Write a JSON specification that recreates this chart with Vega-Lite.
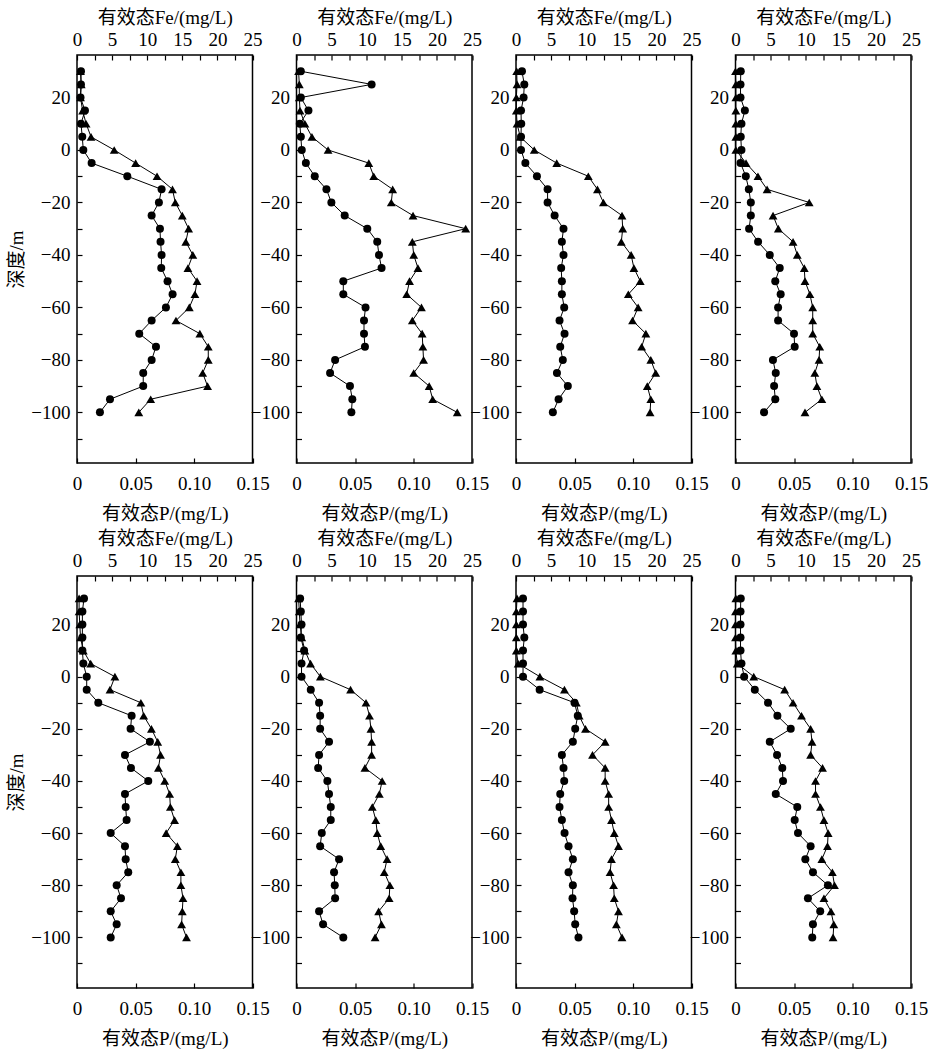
{
"$schema": "https://vega.github.io/schema/vega-lite/v6.json",
"background": "white",
"padding": {"left": 7, "top": 7, "right": 6, "bottom": 6},
"datasets": {
"t1d1": [{"z":30,"P":0.0034,"Fe":0.5},{"z":25,"P":0.0034,"Fe":0.6},{"z":20,"P":0.003,"Fe":0.5},{"z":15,"P":0.0068,"Fe":0.8},{"z":10,"P":0.0034,"Fe":1.3},{"z":5,"P":0.0045,"Fe":2.0},{"z":0,"P":0.0054,"Fe":5.3},{"z":-5,"P":0.0125,"Fe":8.35},{"z":-10,"P":0.043,"Fe":11.4},{"z":-15,"P":0.0723,"Fe":13.6},{"z":-20,"P":0.070,"Fe":14.0},{"z":-25,"P":0.0638,"Fe":15.0},{"z":-30,"P":0.0709,"Fe":15.9},{"z":-35,"P":0.0714,"Fe":15.5},{"z":-40,"P":0.0723,"Fe":16.5},{"z":-45,"P":0.072,"Fe":15.8},{"z":-50,"P":0.0774,"Fe":17.1},{"z":-55,"P":0.0817,"Fe":16.8},{"z":-60,"P":0.076,"Fe":16.0},{"z":-65,"P":0.0638,"Fe":14.1},{"z":-70,"P":0.0532,"Fe":17.5},{"z":-75,"P":0.0675,"Fe":18.7},{"z":-80,"P":0.0638,"Fe":18.7},{"z":-85,"P":0.0566,"Fe":17.9},{"z":-90,"P":0.0566,"Fe":18.6},{"z":-95,"P":0.0282,"Fe":10.5},{"z":-100,"P":0.0196,"Fe":8.8}],
"t1d14": [{"z":30,"P":0.0037,"Fe":0.3},{"z":25,"P":0.0642,"Fe":0.4},{"z":20,"P":0.0037,"Fe":0.4},{"z":15,"P":0.0102,"Fe":0.5},{"z":10,"P":0.0028,"Fe":1.2},{"z":5,"P":0.0037,"Fe":2.2},{"z":0,"P":0.0045,"Fe":4.5},{"z":-5,"P":0.008,"Fe":10.3},{"z":-10,"P":0.0156,"Fe":11.0},{"z":-15,"P":0.0256,"Fe":13.7},{"z":-20,"P":0.0298,"Fe":13.5},{"z":-25,"P":0.0412,"Fe":16.6},{"z":-30,"P":0.0605,"Fe":24.1},{"z":-35,"P":0.069,"Fe":16.5},{"z":-40,"P":0.0705,"Fe":16.7},{"z":-45,"P":0.0727,"Fe":17.3},{"z":-50,"P":0.040,"Fe":16.1},{"z":-55,"P":0.040,"Fe":15.7},{"z":-60,"P":0.059,"Fe":17.8},{"z":-65,"P":0.0577,"Fe":16.5},{"z":-70,"P":0.0577,"Fe":17.9},{"z":-75,"P":0.0585,"Fe":18.0},{"z":-80,"P":0.033,"Fe":18.1},{"z":-85,"P":0.0287,"Fe":16.7},{"z":-90,"P":0.0457,"Fe":18.9},{"z":-95,"P":0.0477,"Fe":19.4},{"z":-100,"P":0.0469,"Fe":22.9}],
"t1d32": [{"z":30,"P":0.0051,"Fe":0.1},{"z":25,"P":0.0071,"Fe":0.15},{"z":20,"P":0.0065,"Fe":0.05},{"z":15,"P":0.0043,"Fe":0.05},{"z":10,"P":0.0045,"Fe":0.15},{"z":5,"P":0.0043,"Fe":0.6},{"z":0,"P":0.0043,"Fe":2.6},{"z":-5,"P":0.008,"Fe":5.8},{"z":-10,"P":0.0179,"Fe":10.3},{"z":-15,"P":0.027,"Fe":11.6},{"z":-20,"P":0.027,"Fe":12.45},{"z":-25,"P":0.033,"Fe":15.1},{"z":-30,"P":0.0406,"Fe":15.2},{"z":-35,"P":0.0392,"Fe":15.0},{"z":-40,"P":0.0406,"Fe":16.4},{"z":-45,"P":0.0386,"Fe":16.8},{"z":-50,"P":0.0392,"Fe":17.7},{"z":-55,"P":0.0392,"Fe":16.0},{"z":-60,"P":0.0412,"Fe":17.4},{"z":-65,"P":0.0372,"Fe":16.6},{"z":-70,"P":0.0415,"Fe":18.5},{"z":-75,"P":0.0378,"Fe":17.9},{"z":-80,"P":0.040,"Fe":19.2},{"z":-85,"P":0.035,"Fe":19.9},{"z":-90,"P":0.0443,"Fe":18.7},{"z":-95,"P":0.0364,"Fe":19.2},{"z":-100,"P":0.0315,"Fe":19.1}],
"t1d54": [{"z":30,"P":0.0045,"Fe":0},{"z":25,"P":0.0043,"Fe":0.05},{"z":20,"P":0.0043,"Fe":0.05},{"z":15,"P":0.008,"Fe":0.05},{"z":10,"P":0.0051,"Fe":0.05},{"z":5,"P":0.0045,"Fe":0.05},{"z":0,"P":0.0051,"Fe":0.05},{"z":-5,"P":0.0043,"Fe":1.5},{"z":-10,"P":0.0088,"Fe":3.2},{"z":-15,"P":0.0114,"Fe":4.5},{"z":-20,"P":0.0131,"Fe":10.5},{"z":-25,"P":0.0131,"Fe":5.35},{"z":-30,"P":0.0116,"Fe":6.1},{"z":-35,"P":0.0193,"Fe":8.2},{"z":-40,"P":0.0293,"Fe":8.8},{"z":-45,"P":0.0378,"Fe":9.8},{"z":-50,"P":0.034,"Fe":9.9},{"z":-55,"P":0.0386,"Fe":10.6},{"z":-60,"P":0.0364,"Fe":11.0},{"z":-65,"P":0.0364,"Fe":11.0},{"z":-70,"P":0.05,"Fe":11.0},{"z":-75,"P":0.0506,"Fe":12.0},{"z":-80,"P":0.032,"Fe":11.9},{"z":-85,"P":0.0344,"Fe":11.3},{"z":-90,"P":0.033,"Fe":11.6},{"z":-95,"P":0.034,"Fe":12.3},{"z":-100,"P":0.0244,"Fe":9.9}],
"t2d1": [{"z":30,"P":0.006,"Fe":0.3},{"z":25,"P":0.0046,"Fe":0.3},{"z":20,"P":0.0046,"Fe":0.4},{"z":15,"P":0.0046,"Fe":0.5},{"z":10,"P":0.0046,"Fe":0.9},{"z":5,"P":0.0054,"Fe":1.95},{"z":0,"P":0.0083,"Fe":5.4},{"z":-5,"P":0.0083,"Fe":4.7},{"z":-10,"P":0.0182,"Fe":9.1},{"z":-15,"P":0.0467,"Fe":9.5},{"z":-20,"P":0.0458,"Fe":10.6},{"z":-25,"P":0.0623,"Fe":11.5},{"z":-30,"P":0.041,"Fe":11.9},{"z":-35,"P":0.0461,"Fe":11.6},{"z":-40,"P":0.0609,"Fe":12.5},{"z":-45,"P":0.041,"Fe":13.2},{"z":-50,"P":0.0416,"Fe":13.3},{"z":-55,"P":0.0424,"Fe":13.9},{"z":-60,"P":0.0288,"Fe":12.7},{"z":-65,"P":0.041,"Fe":14.3},{"z":-70,"P":0.0416,"Fe":14.0},{"z":-75,"P":0.0438,"Fe":14.8},{"z":-80,"P":0.0339,"Fe":14.8},{"z":-85,"P":0.0376,"Fe":15.1},{"z":-90,"P":0.0288,"Fe":15.0},{"z":-95,"P":0.0339,"Fe":14.9},{"z":-100,"P":0.0288,"Fe":15.6}],
"t2d14": [{"z":30,"P":0.0031,"Fe":0.3},{"z":25,"P":0.0037,"Fe":0.4},{"z":20,"P":0.0043,"Fe":0.5},{"z":15,"P":0.0037,"Fe":0.75},{"z":10,"P":0.0065,"Fe":1.2},{"z":5,"P":0.0043,"Fe":2.0},{"z":0,"P":0.0043,"Fe":3.4},{"z":-5,"P":0.0122,"Fe":7.7},{"z":-10,"P":0.0193,"Fe":9.9},{"z":-15,"P":0.0202,"Fe":10.4},{"z":-20,"P":0.0202,"Fe":10.6},{"z":-25,"P":0.0278,"Fe":10.7},{"z":-30,"P":0.0193,"Fe":10.7},{"z":-35,"P":0.0185,"Fe":9.75},{"z":-40,"P":0.0264,"Fe":12.2},{"z":-45,"P":0.0278,"Fe":11.8},{"z":-50,"P":0.0293,"Fe":10.8},{"z":-55,"P":0.0293,"Fe":11.3},{"z":-60,"P":0.0216,"Fe":11.5},{"z":-65,"P":0.0202,"Fe":12.0},{"z":-70,"P":0.0364,"Fe":12.9},{"z":-75,"P":0.0321,"Fe":12.5},{"z":-80,"P":0.0327,"Fe":13.3},{"z":-85,"P":0.033,"Fe":13.2},{"z":-90,"P":0.0193,"Fe":11.7},{"z":-95,"P":0.0227,"Fe":12.1},{"z":-100,"P":0.040,"Fe":11.2}],
"t2d32": [{"z":30,"P":0.006,"Fe":0.15},{"z":25,"P":0.006,"Fe":0.05},{"z":20,"P":0.006,"Fe":0.05},{"z":15,"P":0.0071,"Fe":0.05},{"z":10,"P":0.006,"Fe":0.05},{"z":5,"P":0.006,"Fe":0.3},{"z":0,"P":0.006,"Fe":3.4},{"z":-5,"P":0.0202,"Fe":6.9},{"z":-10,"P":0.050,"Fe":8.6},{"z":-15,"P":0.0528,"Fe":9.0},{"z":-20,"P":0.0506,"Fe":9.9},{"z":-25,"P":0.0486,"Fe":12.7},{"z":-30,"P":0.0392,"Fe":10.9},{"z":-35,"P":0.0406,"Fe":12.7},{"z":-40,"P":0.0412,"Fe":12.7},{"z":-45,"P":0.0378,"Fe":13.2},{"z":-50,"P":0.0372,"Fe":13.2},{"z":-55,"P":0.0392,"Fe":13.6},{"z":-60,"P":0.0415,"Fe":14.0},{"z":-65,"P":0.0449,"Fe":14.6},{"z":-70,"P":0.0486,"Fe":13.6},{"z":-75,"P":0.0449,"Fe":13.4},{"z":-80,"P":0.0486,"Fe":13.9},{"z":-85,"P":0.0483,"Fe":14.0},{"z":-90,"P":0.0497,"Fe":14.6},{"z":-95,"P":0.0506,"Fe":14.3},{"z":-100,"P":0.0534,"Fe":15.1}],
"t2d54": [{"z":30,"P":0.0045,"Fe":0.05},{"z":25,"P":0.0043,"Fe":0},{"z":20,"P":0.0043,"Fe":0},{"z":15,"P":0.0043,"Fe":0},{"z":10,"P":0.0043,"Fe":0.05},{"z":5,"P":0.0051,"Fe":0.25},{"z":0,"P":0.0074,"Fe":2.6},{"z":-5,"P":0.0165,"Fe":7.0},{"z":-10,"P":0.0278,"Fe":8.2},{"z":-15,"P":0.0358,"Fe":9.4},{"z":-20,"P":0.0472,"Fe":10.7},{"z":-25,"P":0.0293,"Fe":10.9},{"z":-30,"P":0.0355,"Fe":10.7},{"z":-35,"P":0.040,"Fe":12.4},{"z":-40,"P":0.0406,"Fe":11.4},{"z":-45,"P":0.0344,"Fe":11.4},{"z":-50,"P":0.0528,"Fe":12.1},{"z":-55,"P":0.0506,"Fe":12.6},{"z":-60,"P":0.0534,"Fe":13.2},{"z":-65,"P":0.0642,"Fe":13.1},{"z":-70,"P":0.0597,"Fe":12.3},{"z":-75,"P":0.0662,"Fe":13.8},{"z":-80,"P":0.079,"Fe":14.1},{"z":-85,"P":0.0619,"Fe":12.6},{"z":-90,"P":0.0724,"Fe":13.6},{"z":-95,"P":0.0662,"Fe":14.0},{"z":-100,"P":0.0656,"Fe":13.9}],
"one": [{}]
},
"columns": 4,
"spacing": {"row": 113, "column": 43.5},
"bounds": "flush",
"concat": [
{"width": 175.5, "height": 408, "data": {"name": "t1d1"}, "resolve": {"scale": {"x": "independent"}},
 "encoding": {"y": {"field": "z", "type": "quantitative", "scale": {"domain": [-119.3, 36.2], "nice": false, "zero": false}, "axis": {"title": "深度/m", "values": [30, 20, 10, 0, -10, -20, -30, -40, -50, -60, -70, -80, -90, -100, -110], "labelExpr": "datum.value % 20 === 0 ? format(datum.value, 'd') : ''", "tickSize": 5, "offset": -5, "labelPadding": 7, "titlePadding": 4}}},
 "layer": [
  {"layer": [
   {"data": {"name": "one"}, "mark": {"type": "rule", "strokeDash": [3, 2], "color": "black", "strokeWidth": 1}, "encoding": {"y": {"datum": 0}}},
   {"mark": {"type": "line", "color": "black", "strokeWidth": 1, "point": {"shape": "circle", "size": 64, "filled": true, "color": "black", "opacity": 1}},
    "encoding": {
     "x": {"field": "P", "type": "quantitative", "scale": {"domain": [0, 0.15], "nice": false}, "axis": {"orient": "bottom", "title": "有效态P/(mg/L)", "values": [0, 0.025, 0.05, 0.075, 0.1, 0.125, 0.15], "labelExpr": "datum.value === 0 ? '0' : (round(datum.value * 1000) % 50 === 0 ? format(datum.value, '.2f') : '')", "tickSize": 5, "offset": -5, "labelPadding": 11, "titlePadding": 11}},
     "order": {"field": "z", "sort": "descending"}}},
   {"data": {"name": "one"}, "mark": {"type": "text", "align": "right", "baseline": "middle"}, "encoding": {"x": {"datum": 0.1344}, "y": {"datum": 18.3}, "text": {"value": "相关性: 0.673"}}},
   {"data": {"name": "one"}, "mark": {"type": "text", "align": "left", "baseline": "middle", "fontSize": 12}, "encoding": {"x": {"datum": 0.1344}, "y": {"datum": 21.3}, "text": {"value": "**"}}},
   {"data": {"name": "one"}, "mark": {"type": "text", "align": "left", "baseline": "middle"}, "encoding": {"x": {"datum": 0.087}, "y": {"datum": -100}, "text": {"value": "TB1"}}},
   {"data": {"name": "one"}, "mark": {"type": "text", "align": "left", "baseline": "middle"}, "encoding": {"x": {"datum": 0.087}, "y": {"datum": -110}, "text": {"value": "Day1"}}}
  ]},
  {"mark": {"type": "line", "color": "black", "strokeWidth": 1, "point": {"shape": "triangle-up", "size": 78, "filled": true, "color": "black", "opacity": 1}},
   "encoding": {
    "x": {"field": "Fe", "type": "quantitative", "scale": {"domain": [0, 25], "nice": false}, "axis": {"orient": "top", "title": "有效态Fe/(mg/L)", "values": [0, 2.5, 5, 7.5, 10, 12.5, 15, 17.5, 20, 22.5, 25], "labelExpr": "datum.value % 5 === 0 ? format(datum.value, 'd') : ''", "tickSize": 5, "offset": -5, "labelPadding": 5.5, "titlePadding": 3}},
    "order": {"field": "z", "sort": "descending"}}}
 ]},
{"width": 175.5, "height": 408, "data": {"name": "t1d14"}, "resolve": {"scale": {"x": "independent"}},
 "encoding": {"y": {"field": "z", "type": "quantitative", "scale": {"domain": [-119.3, 36.2], "nice": false, "zero": false}, "axis": {"title": null, "values": [30, 20, 10, 0, -10, -20, -30, -40, -50, -60, -70, -80, -90, -100, -110], "labelExpr": "datum.value % 20 === 0 ? format(datum.value, 'd') : ''", "tickSize": 5, "offset": -5, "labelPadding": 7}}},
 "layer": [
  {"layer": [
   {"data": {"name": "one"}, "mark": {"type": "rule", "strokeDash": [3, 2], "color": "black", "strokeWidth": 1}, "encoding": {"y": {"datum": 0}}},
   {"mark": {"type": "line", "color": "black", "strokeWidth": 1, "point": {"shape": "circle", "size": 64, "filled": true, "color": "black", "opacity": 1}},
    "encoding": {
     "x": {"field": "P", "type": "quantitative", "scale": {"domain": [0, 0.15], "nice": false}, "axis": {"orient": "bottom", "title": "有效态P/(mg/L)", "values": [0, 0.025, 0.05, 0.075, 0.1, 0.125, 0.15], "labelExpr": "datum.value === 0 ? '0' : (round(datum.value * 1000) % 50 === 0 ? format(datum.value, '.2f') : '')", "tickSize": 5, "offset": -5, "labelPadding": 11, "titlePadding": 11}},
     "order": {"field": "z", "sort": "descending"}}},
   {"data": {"name": "one"}, "mark": {"type": "text", "align": "right", "baseline": "middle"}, "encoding": {"x": {"datum": 0.1304}, "y": {"datum": 18.3}, "text": {"value": "相关性: 0.500"}}},
   {"data": {"name": "one"}, "mark": {"type": "text", "align": "left", "baseline": "middle", "fontSize": 12}, "encoding": {"x": {"datum": 0.1304}, "y": {"datum": 21.3}, "text": {"value": "*"}}},
   {"data": {"name": "one"}, "mark": {"type": "text", "align": "left", "baseline": "middle"}, "encoding": {"x": {"datum": 0.078}, "y": {"datum": -100}, "text": {"value": "TB1"}}},
   {"data": {"name": "one"}, "mark": {"type": "text", "align": "left", "baseline": "middle"}, "encoding": {"x": {"datum": 0.078}, "y": {"datum": -110}, "text": {"value": "Day14"}}}
  ]},
  {"mark": {"type": "line", "color": "black", "strokeWidth": 1, "point": {"shape": "triangle-up", "size": 78, "filled": true, "color": "black", "opacity": 1}},
   "encoding": {
    "x": {"field": "Fe", "type": "quantitative", "scale": {"domain": [0, 25], "nice": false}, "axis": {"orient": "top", "title": "有效态Fe/(mg/L)", "values": [0, 2.5, 5, 7.5, 10, 12.5, 15, 17.5, 20, 22.5, 25], "labelExpr": "datum.value % 5 === 0 ? format(datum.value, 'd') : ''", "tickSize": 5, "offset": -5, "labelPadding": 5.5, "titlePadding": 3}},
    "order": {"field": "z", "sort": "descending"}}}
 ]},
{"width": 175.5, "height": 408, "data": {"name": "t1d32"}, "resolve": {"scale": {"x": "independent"}},
 "encoding": {"y": {"field": "z", "type": "quantitative", "scale": {"domain": [-119.3, 36.2], "nice": false, "zero": false}, "axis": {"title": null, "values": [30, 20, 10, 0, -10, -20, -30, -40, -50, -60, -70, -80, -90, -100, -110], "labelExpr": "datum.value % 20 === 0 ? format(datum.value, 'd') : ''", "tickSize": 5, "offset": -5, "labelPadding": 7}}},
 "layer": [
  {"layer": [
   {"data": {"name": "one"}, "mark": {"type": "rule", "strokeDash": [3, 2], "color": "black", "strokeWidth": 1}, "encoding": {"y": {"datum": 0}}},
   {"mark": {"type": "line", "color": "black", "strokeWidth": 1, "point": {"shape": "circle", "size": 64, "filled": true, "color": "black", "opacity": 1}},
    "encoding": {
     "x": {"field": "P", "type": "quantitative", "scale": {"domain": [0, 0.15], "nice": false}, "axis": {"orient": "bottom", "title": "有效态P/(mg/L)", "values": [0, 0.025, 0.05, 0.075, 0.1, 0.125, 0.15], "labelExpr": "datum.value === 0 ? '0' : (round(datum.value * 1000) % 50 === 0 ? format(datum.value, '.2f') : '')", "tickSize": 5, "offset": -5, "labelPadding": 11, "titlePadding": 11}},
     "order": {"field": "z", "sort": "descending"}}},
   {"data": {"name": "one"}, "mark": {"type": "text", "align": "right", "baseline": "middle"}, "encoding": {"x": {"datum": 0.126}, "y": {"datum": 18.3}, "text": {"value": "相关性: 0.722"}}},
   {"data": {"name": "one"}, "mark": {"type": "text", "align": "left", "baseline": "middle", "fontSize": 12}, "encoding": {"x": {"datum": 0.126}, "y": {"datum": 21.3}, "text": {"value": "**"}}},
   {"data": {"name": "one"}, "mark": {"type": "text", "align": "left", "baseline": "middle"}, "encoding": {"x": {"datum": 0.065}, "y": {"datum": -100}, "text": {"value": "TB1"}}},
   {"data": {"name": "one"}, "mark": {"type": "text", "align": "left", "baseline": "middle"}, "encoding": {"x": {"datum": 0.065}, "y": {"datum": -110}, "text": {"value": "Day32"}}}
  ]},
  {"mark": {"type": "line", "color": "black", "strokeWidth": 1, "point": {"shape": "triangle-up", "size": 78, "filled": true, "color": "black", "opacity": 1}},
   "encoding": {
    "x": {"field": "Fe", "type": "quantitative", "scale": {"domain": [0, 25], "nice": false}, "axis": {"orient": "top", "title": "有效态Fe/(mg/L)", "values": [0, 2.5, 5, 7.5, 10, 12.5, 15, 17.5, 20, 22.5, 25], "labelExpr": "datum.value % 5 === 0 ? format(datum.value, 'd') : ''", "tickSize": 5, "offset": -5, "labelPadding": 5.5, "titlePadding": 3}},
    "order": {"field": "z", "sort": "descending"}}}
 ]},
{"width": 175.5, "height": 408, "data": {"name": "t1d54"}, "resolve": {"scale": {"x": "independent"}},
 "encoding": {"y": {"field": "z", "type": "quantitative", "scale": {"domain": [-119.3, 36.2], "nice": false, "zero": false}, "axis": {"title": null, "values": [30, 20, 10, 0, -10, -20, -30, -40, -50, -60, -70, -80, -90, -100, -110], "labelExpr": "datum.value % 20 === 0 ? format(datum.value, 'd') : ''", "tickSize": 5, "offset": -5, "labelPadding": 7}}},
 "layer": [
  {"layer": [
   {"data": {"name": "one"}, "mark": {"type": "rule", "strokeDash": [3, 2], "color": "black", "strokeWidth": 1}, "encoding": {"y": {"datum": 0}}},
   {"mark": {"type": "line", "color": "black", "strokeWidth": 1, "point": {"shape": "circle", "size": 64, "filled": true, "color": "black", "opacity": 1}},
    "encoding": {
     "x": {"field": "P", "type": "quantitative", "scale": {"domain": [0, 0.15], "nice": false}, "axis": {"orient": "bottom", "title": "有效态P/(mg/L)", "values": [0, 0.025, 0.05, 0.075, 0.1, 0.125, 0.15], "labelExpr": "datum.value === 0 ? '0' : (round(datum.value * 1000) % 50 === 0 ? format(datum.value, '.2f') : '')", "tickSize": 5, "offset": -5, "labelPadding": 11, "titlePadding": 11}},
     "order": {"field": "z", "sort": "descending"}}},
   {"data": {"name": "one"}, "mark": {"type": "text", "align": "right", "baseline": "middle"}, "encoding": {"x": {"datum": 0.1233}, "y": {"datum": 20}, "text": {"value": "相关性: 0.803"}}},
   {"data": {"name": "one"}, "mark": {"type": "text", "align": "left", "baseline": "middle", "fontSize": 12}, "encoding": {"x": {"datum": 0.1233}, "y": {"datum": 23}, "text": {"value": "**"}}},
   {"data": {"name": "one"}, "mark": {"type": "text", "align": "left", "baseline": "middle"}, "encoding": {"x": {"datum": 0.088}, "y": {"datum": -100}, "text": {"value": "TB1"}}},
   {"data": {"name": "one"}, "mark": {"type": "text", "align": "left", "baseline": "middle"}, "encoding": {"x": {"datum": 0.088}, "y": {"datum": -110}, "text": {"value": "Day54"}}},
   {"data": {"name": "one"}, "mark": {"type": "rule", "color": "black", "strokeWidth": 1}, "encoding": {"x": {"datum": 0.0833}, "x2": {"datum": 0.1103}, "y": {"datum": -10}}},
   {"data": {"name": "one"}, "mark": {"type": "point", "shape": "circle", "size": 64, "filled": true, "color": "black", "opacity": 1}, "encoding": {"x": {"datum": 0.0955}, "y": {"datum": -10}}},
   {"data": {"name": "one"}, "mark": {"type": "text", "align": "left", "baseline": "middle"}, "encoding": {"x": {"datum": 0.1117}, "y": {"datum": -10}, "text": {"value": "P"}}},
   {"data": {"name": "one"}, "mark": {"type": "rule", "color": "black", "strokeWidth": 1}, "encoding": {"x": {"datum": 0.0833}, "x2": {"datum": 0.1103}, "y": {"datum": -20}}},
   {"data": {"name": "one"}, "mark": {"type": "point", "shape": "triangle-up", "size": 78, "filled": true, "color": "black", "opacity": 1}, "encoding": {"x": {"datum": 0.0965}, "y": {"datum": -20}}},
   {"data": {"name": "one"}, "mark": {"type": "text", "align": "left", "baseline": "middle"}, "encoding": {"x": {"datum": 0.1117}, "y": {"datum": -20}, "text": {"value": "Fe"}}}
  ]},
  {"mark": {"type": "line", "color": "black", "strokeWidth": 1, "point": {"shape": "triangle-up", "size": 78, "filled": true, "color": "black", "opacity": 1}},
   "encoding": {
    "x": {"field": "Fe", "type": "quantitative", "scale": {"domain": [0, 25], "nice": false}, "axis": {"orient": "top", "title": "有效态Fe/(mg/L)", "values": [0, 2.5, 5, 7.5, 10, 12.5, 15, 17.5, 20, 22.5, 25], "labelExpr": "datum.value % 5 === 0 ? format(datum.value, 'd') : ''", "tickSize": 5, "offset": -5, "labelPadding": 5.5, "titlePadding": 3}},
    "order": {"field": "z", "sort": "descending"}}}
 ]},
{"width": 175.5, "height": 412, "data": {"name": "t2d1"}, "resolve": {"scale": {"x": "independent"}},
 "encoding": {"y": {"field": "z", "type": "quantitative", "scale": {"domain": [-119.4, 38.6], "nice": false, "zero": false}, "axis": {"title": "深度/m", "values": [30, 20, 10, 0, -10, -20, -30, -40, -50, -60, -70, -80, -90, -100, -110], "labelExpr": "datum.value % 20 === 0 ? format(datum.value, 'd') : ''", "tickSize": 5, "offset": -5, "labelPadding": 7, "titlePadding": 4}}},
 "layer": [
  {"layer": [
   {"data": {"name": "one"}, "mark": {"type": "rule", "strokeDash": [3, 2], "color": "black", "strokeWidth": 1}, "encoding": {"y": {"datum": 0}}},
   {"mark": {"type": "line", "color": "black", "strokeWidth": 1, "point": {"shape": "circle", "size": 64, "filled": true, "color": "black", "opacity": 1}},
    "encoding": {
     "x": {"field": "P", "type": "quantitative", "scale": {"domain": [0, 0.15], "nice": false}, "axis": {"orient": "bottom", "title": "有效态P/(mg/L)", "values": [0, 0.025, 0.05, 0.075, 0.1, 0.125, 0.15], "labelExpr": "datum.value === 0 ? '0' : (round(datum.value * 1000) % 50 === 0 ? format(datum.value, '.2f') : '')", "tickSize": 5, "offset": -5, "labelPadding": 11, "titlePadding": 11}},
     "order": {"field": "z", "sort": "descending"}}},
   {"data": {"name": "one"}, "mark": {"type": "text", "align": "right", "baseline": "middle"}, "encoding": {"x": {"datum": 0.1358}, "y": {"datum": 27.3}, "text": {"value": "相关性: –0.186"}}},
   {"data": {"name": "one"}, "mark": {"type": "text", "align": "left", "baseline": "middle"}, "encoding": {"x": {"datum": 0.0466}, "y": {"datum": -100}, "text": {"value": "TB2"}}},
   {"data": {"name": "one"}, "mark": {"type": "text", "align": "left", "baseline": "middle"}, "encoding": {"x": {"datum": 0.0466}, "y": {"datum": -110}, "text": {"value": "Day1"}}}
  ]},
  {"mark": {"type": "line", "color": "black", "strokeWidth": 1, "point": {"shape": "triangle-up", "size": 78, "filled": true, "color": "black", "opacity": 1}},
   "encoding": {
    "x": {"field": "Fe", "type": "quantitative", "scale": {"domain": [0, 25], "nice": false}, "axis": {"orient": "top", "title": "有效态Fe/(mg/L)", "values": [0, 2.5, 5, 7.5, 10, 12.5, 15, 17.5, 20, 22.5, 25], "labelExpr": "datum.value % 5 === 0 ? format(datum.value, 'd') : ''", "tickSize": 5, "offset": -5, "labelPadding": 5.5, "titlePadding": 3}},
    "order": {"field": "z", "sort": "descending"}}}
 ]},
{"width": 175.5, "height": 412, "data": {"name": "t2d14"}, "resolve": {"scale": {"x": "independent"}},
 "encoding": {"y": {"field": "z", "type": "quantitative", "scale": {"domain": [-119.4, 38.6], "nice": false, "zero": false}, "axis": {"title": null, "values": [30, 20, 10, 0, -10, -20, -30, -40, -50, -60, -70, -80, -90, -100, -110], "labelExpr": "datum.value % 20 === 0 ? format(datum.value, 'd') : ''", "tickSize": 5, "offset": -5, "labelPadding": 7}}},
 "layer": [
  {"layer": [
   {"data": {"name": "one"}, "mark": {"type": "rule", "strokeDash": [3, 2], "color": "black", "strokeWidth": 1}, "encoding": {"y": {"datum": 0}}},
   {"mark": {"type": "line", "color": "black", "strokeWidth": 1, "point": {"shape": "circle", "size": 64, "filled": true, "color": "black", "opacity": 1}},
    "encoding": {
     "x": {"field": "P", "type": "quantitative", "scale": {"domain": [0, 0.15], "nice": false}, "axis": {"orient": "bottom", "title": "有效态P/(mg/L)", "values": [0, 0.025, 0.05, 0.075, 0.1, 0.125, 0.15], "labelExpr": "datum.value === 0 ? '0' : (round(datum.value * 1000) % 50 === 0 ? format(datum.value, '.2f') : '')", "tickSize": 5, "offset": -5, "labelPadding": 11, "titlePadding": 11}},
     "order": {"field": "z", "sort": "descending"}}},
   {"data": {"name": "one"}, "mark": {"type": "text", "align": "right", "baseline": "middle"}, "encoding": {"x": {"datum": 0.1327}, "y": {"datum": 27.3}, "text": {"value": "相关性: 0.580"}}},
   {"data": {"name": "one"}, "mark": {"type": "text", "align": "left", "baseline": "middle", "fontSize": 12}, "encoding": {"x": {"datum": 0.1327}, "y": {"datum": 30.3}, "text": {"value": "**"}}},
   {"data": {"name": "one"}, "mark": {"type": "text", "align": "left", "baseline": "middle"}, "encoding": {"x": {"datum": 0.0946}, "y": {"datum": -100}, "text": {"value": "TB2"}}},
   {"data": {"name": "one"}, "mark": {"type": "text", "align": "left", "baseline": "middle"}, "encoding": {"x": {"datum": 0.0946}, "y": {"datum": -110}, "text": {"value": "Day14"}}}
  ]},
  {"mark": {"type": "line", "color": "black", "strokeWidth": 1, "point": {"shape": "triangle-up", "size": 78, "filled": true, "color": "black", "opacity": 1}},
   "encoding": {
    "x": {"field": "Fe", "type": "quantitative", "scale": {"domain": [0, 25], "nice": false}, "axis": {"orient": "top", "title": "有效态Fe/(mg/L)", "values": [0, 2.5, 5, 7.5, 10, 12.5, 15, 17.5, 20, 22.5, 25], "labelExpr": "datum.value % 5 === 0 ? format(datum.value, 'd') : ''", "tickSize": 5, "offset": -5, "labelPadding": 5.5, "titlePadding": 3}},
    "order": {"field": "z", "sort": "descending"}}}
 ]},
{"width": 175.5, "height": 412, "data": {"name": "t2d32"}, "resolve": {"scale": {"x": "independent"}},
 "encoding": {"y": {"field": "z", "type": "quantitative", "scale": {"domain": [-119.4, 38.6], "nice": false, "zero": false}, "axis": {"title": null, "values": [30, 20, 10, 0, -10, -20, -30, -40, -50, -60, -70, -80, -90, -100, -110], "labelExpr": "datum.value % 20 === 0 ? format(datum.value, 'd') : ''", "tickSize": 5, "offset": -5, "labelPadding": 7}}},
 "layer": [
  {"layer": [
   {"data": {"name": "one"}, "mark": {"type": "rule", "strokeDash": [3, 2], "color": "black", "strokeWidth": 1}, "encoding": {"y": {"datum": 0}}},
   {"mark": {"type": "line", "color": "black", "strokeWidth": 1, "point": {"shape": "circle", "size": 64, "filled": true, "color": "black", "opacity": 1}},
    "encoding": {
     "x": {"field": "P", "type": "quantitative", "scale": {"domain": [0, 0.15], "nice": false}, "axis": {"orient": "bottom", "title": "有效态P/(mg/L)", "values": [0, 0.025, 0.05, 0.075, 0.1, 0.125, 0.15], "labelExpr": "datum.value === 0 ? '0' : (round(datum.value * 1000) % 50 === 0 ? format(datum.value, '.2f') : '')", "tickSize": 5, "offset": -5, "labelPadding": 11, "titlePadding": 11}},
     "order": {"field": "z", "sort": "descending"}}},
   {"data": {"name": "one"}, "mark": {"type": "text", "align": "right", "baseline": "middle"}, "encoding": {"x": {"datum": 0.136}, "y": {"datum": 27.3}, "text": {"value": "相关性: –0.091"}}},
   {"data": {"name": "one"}, "mark": {"type": "text", "align": "left", "baseline": "middle"}, "encoding": {"x": {"datum": 0.102}, "y": {"datum": -100}, "text": {"value": "TB2"}}},
   {"data": {"name": "one"}, "mark": {"type": "text", "align": "left", "baseline": "middle"}, "encoding": {"x": {"datum": 0.102}, "y": {"datum": -110}, "text": {"value": "Day32"}}}
  ]},
  {"mark": {"type": "line", "color": "black", "strokeWidth": 1, "point": {"shape": "triangle-up", "size": 78, "filled": true, "color": "black", "opacity": 1}},
   "encoding": {
    "x": {"field": "Fe", "type": "quantitative", "scale": {"domain": [0, 25], "nice": false}, "axis": {"orient": "top", "title": "有效态Fe/(mg/L)", "values": [0, 2.5, 5, 7.5, 10, 12.5, 15, 17.5, 20, 22.5, 25], "labelExpr": "datum.value % 5 === 0 ? format(datum.value, 'd') : ''", "tickSize": 5, "offset": -5, "labelPadding": 5.5, "titlePadding": 3}},
    "order": {"field": "z", "sort": "descending"}}}
 ]},
{"width": 175.5, "height": 412, "data": {"name": "t2d54"}, "resolve": {"scale": {"x": "independent"}},
 "encoding": {"y": {"field": "z", "type": "quantitative", "scale": {"domain": [-119.4, 38.6], "nice": false, "zero": false}, "axis": {"title": null, "values": [30, 20, 10, 0, -10, -20, -30, -40, -50, -60, -70, -80, -90, -100, -110], "labelExpr": "datum.value % 20 === 0 ? format(datum.value, 'd') : ''", "tickSize": 5, "offset": -5, "labelPadding": 7}}},
 "layer": [
  {"layer": [
   {"data": {"name": "one"}, "mark": {"type": "rule", "strokeDash": [3, 2], "color": "black", "strokeWidth": 1}, "encoding": {"y": {"datum": 0}}},
   {"mark": {"type": "line", "color": "black", "strokeWidth": 1, "point": {"shape": "circle", "size": 64, "filled": true, "color": "black", "opacity": 1}},
    "encoding": {
     "x": {"field": "P", "type": "quantitative", "scale": {"domain": [0, 0.15], "nice": false}, "axis": {"orient": "bottom", "title": "有效态P/(mg/L)", "values": [0, 0.025, 0.05, 0.075, 0.1, 0.125, 0.15], "labelExpr": "datum.value === 0 ? '0' : (round(datum.value * 1000) % 50 === 0 ? format(datum.value, '.2f') : '')", "tickSize": 5, "offset": -5, "labelPadding": 11, "titlePadding": 11}},
     "order": {"field": "z", "sort": "descending"}}},
   {"data": {"name": "one"}, "mark": {"type": "text", "align": "right", "baseline": "middle"}, "encoding": {"x": {"datum": 0.1242}, "y": {"datum": 27.3}, "text": {"value": "相关性: 0.866"}}},
   {"data": {"name": "one"}, "mark": {"type": "text", "align": "left", "baseline": "middle", "fontSize": 12}, "encoding": {"x": {"datum": 0.1242}, "y": {"datum": 30.3}, "text": {"value": "**"}}},
   {"data": {"name": "one"}, "mark": {"type": "text", "align": "left", "baseline": "middle"}, "encoding": {"x": {"datum": 0.1006}, "y": {"datum": -100}, "text": {"value": "TB2"}}},
   {"data": {"name": "one"}, "mark": {"type": "text", "align": "left", "baseline": "middle"}, "encoding": {"x": {"datum": 0.1006}, "y": {"datum": -110}, "text": {"value": "Day54"}}}
  ]},
  {"mark": {"type": "line", "color": "black", "strokeWidth": 1, "point": {"shape": "triangle-up", "size": 78, "filled": true, "color": "black", "opacity": 1}},
   "encoding": {
    "x": {"field": "Fe", "type": "quantitative", "scale": {"domain": [0, 25], "nice": false}, "axis": {"orient": "top", "title": "有效态Fe/(mg/L)", "values": [0, 2.5, 5, 7.5, 10, 12.5, 15, 17.5, 20, 22.5, 25], "labelExpr": "datum.value % 5 === 0 ? format(datum.value, 'd') : ''", "tickSize": 5, "offset": -5, "labelPadding": 5.5, "titlePadding": 3}},
    "order": {"field": "z", "sort": "descending"}}}
 ]}
],
"config": {
 "view": {"stroke": "black", "strokeWidth": 1.5},
 "axis": {"domain": false, "grid": false, "tickColor": "black", "tickWidth": 1.2, "labelColor": "black", "labelFont": "Liberation Serif", "labelFontSize": 19, "titleFont": "Liberation Serif, Noto Sans CJK SC", "titleFontSize": 19, "titleFontWeight": "normal", "titleColor": "black", "labelFlush": false, "labelOverlap": false},
 "text": {"font": "Liberation Serif, Noto Sans CJK SC", "fontSize": 19, "color": "black"}
}
}
